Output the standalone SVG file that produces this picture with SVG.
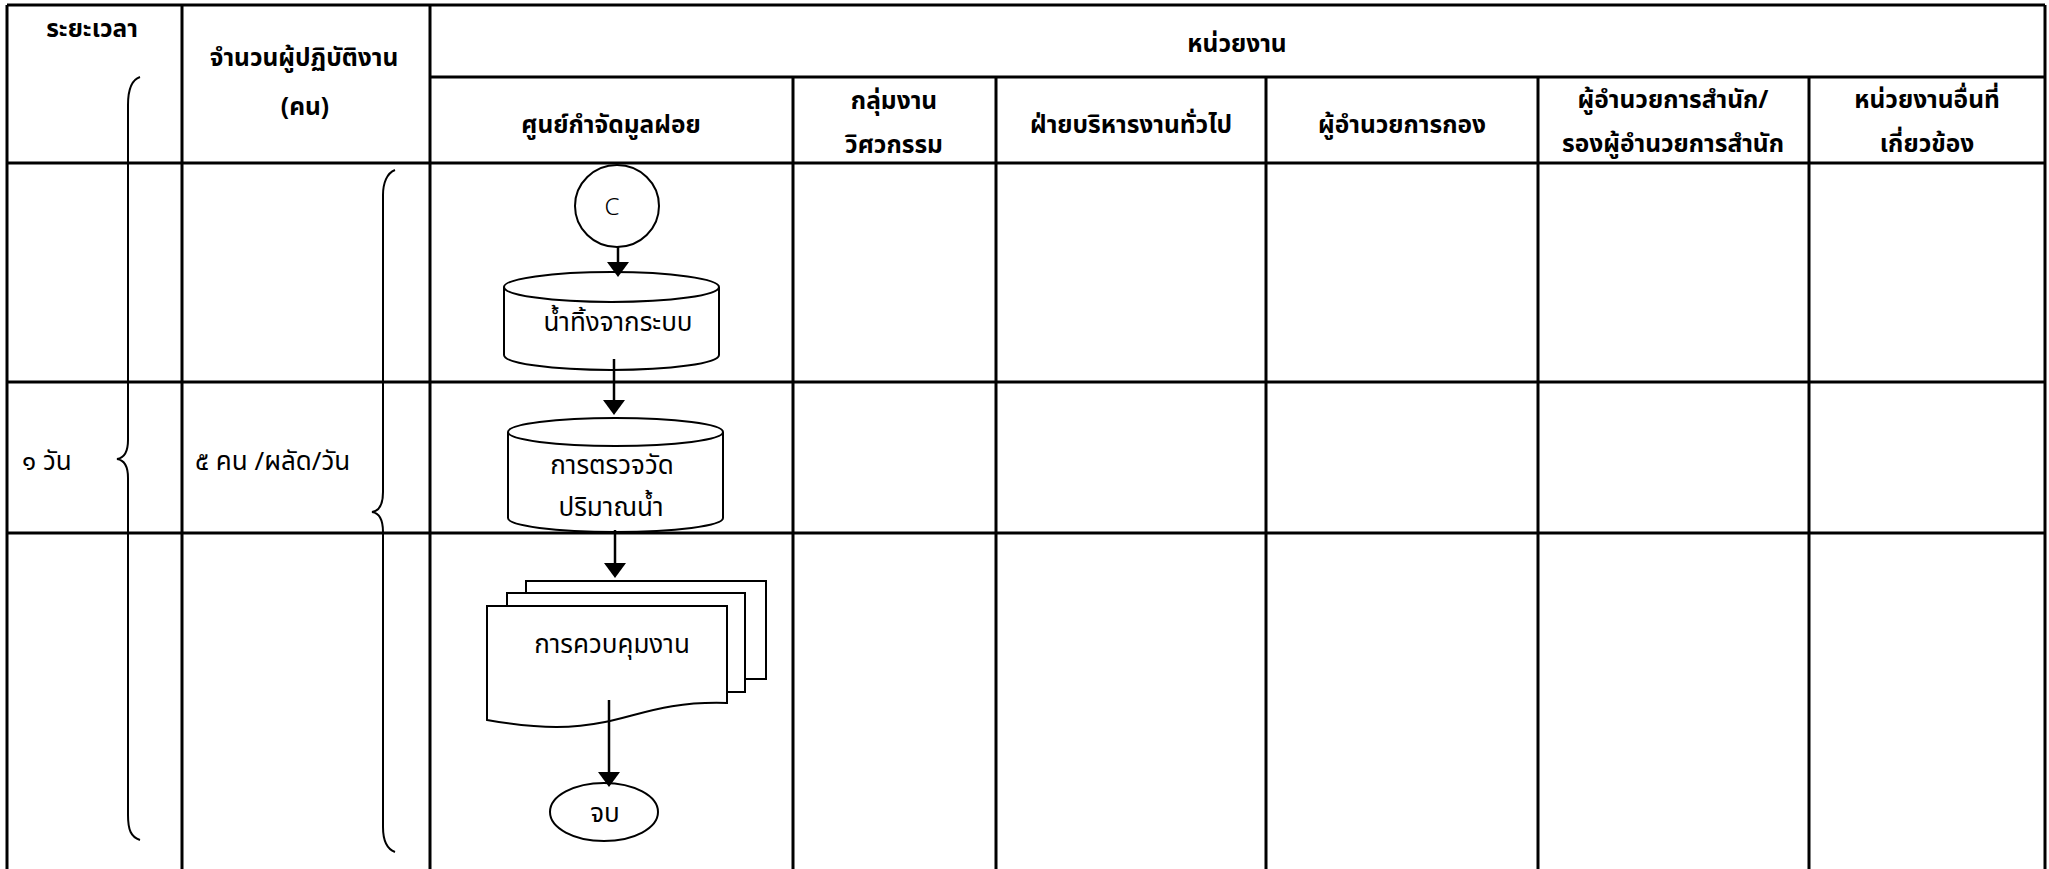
<svg xmlns="http://www.w3.org/2000/svg" width="2049" height="869" viewBox="0 0 2049 869">
  <style>
    .grid { stroke: #000; stroke-width: 3; fill: none; }
    .brace { stroke: #000; stroke-width: 2; fill: none; }
    .shape { stroke: #000; stroke-width: 2; fill: #fff; }
    .flow { stroke: #000; stroke-width: 2.5; fill: none; }
    .head { fill: #000; stroke: none; }
    text { font-family: "Noto Sans Thai", "Noto Sans Thai UI", "Tahoma", "Noto Sans", "DejaVu Sans", sans-serif; fill: #000; }
    .hd { font-size: 24.5px; font-weight: bold; text-anchor: middle; }
    .tx { font-size: 26px; }
    .lbl { font-size: 26px; text-anchor: middle; }
    .c { font-size: 24px; font-weight: 300; text-anchor: middle; }
  </style>

  <rect width="2049" height="869" fill="#fff"/>

  <!-- table grid -->
  <g id="table">
    <line class="grid" x1="7" y1="5" x2="2045" y2="5"/>
    <line class="grid" x1="7" y1="5" x2="7" y2="869"/>
    <line class="grid" x1="182" y1="5" x2="182" y2="869"/>
    <line class="grid" x1="430" y1="5" x2="430" y2="869"/>
    <line class="grid" x1="2045" y1="5" x2="2045" y2="869"/>
    <line class="grid" x1="430" y1="77" x2="2045" y2="77"/>
    <line class="grid" x1="793" y1="77" x2="793" y2="869"/>
    <line class="grid" x1="996" y1="77" x2="996" y2="869"/>
    <line class="grid" x1="1266" y1="77" x2="1266" y2="869"/>
    <line class="grid" x1="1538" y1="77" x2="1538" y2="869"/>
    <line class="grid" x1="1809" y1="77" x2="1809" y2="869"/>
    <line class="grid" x1="7" y1="163" x2="2045" y2="163"/>
    <line class="grid" x1="7" y1="382" x2="2045" y2="382"/>
    <line class="grid" x1="7" y1="533" x2="2045" y2="533"/>
  </g>

  <!-- column headers -->
  <g id="headers">
    <text class="hd" x="92" y="37">ระยะเวลา</text>
    <text class="hd" x="304" y="66">จำนวนผู้ปฏิบัติงาน</text>
    <text class="hd" x="305" y="115">(คน)</text>
    <text class="hd" x="1237" y="52">หน่วยงาน</text>
    <text class="hd" x="611" y="133">ศูนย์กำจัดมูลฝอย</text>
    <text class="hd" x="894" y="109">กลุ่มงาน</text>
    <text class="hd" x="894" y="153">วิศวกรรม</text>
    <text class="hd" x="1131" y="133">ฝ่ายบริหารงานทั่วไป</text>
    <text class="hd" x="1402" y="133">ผู้อำนวยการกอง</text>
    <text class="hd" x="1673" y="108">ผู้อำนวยการสำนัก/</text>
    <text class="hd" x="1673" y="152">รองผู้อำนวยการสำนัก</text>
    <text class="hd" x="1927" y="108">หน่วยงานอื่นที่</text>
    <text class="hd" x="1927" y="152">เกี่ยวข้อง</text>
  </g>

  <!-- duration and staff columns -->
  <g id="duration">
    <path class="brace" d="M140,77 C131,80 128,90 128,105 V440 C128,452 124,458 117,459 C124,460 128,466 128,478 V815 C128,830 131,837 140,840"/>
    <text class="tx" x="22" y="470">๑ วัน</text>
  </g>
  <g id="staff">
    <path class="brace" d="M395,170 C387,173 383,183 383,195 V492 C383,505 379,511 372,512 C379,513 383,519 383,532 V827 C383,840 387,849 395,852"/>
    <text class="tx" x="195" y="470">๕ คน /ผลัด/วัน</text>
  </g>

  <!-- flow nodes -->
  <g id="node-c">
    <ellipse class="shape" cx="617" cy="206" rx="42" ry="41"/>
    <text class="c" x="612" y="215">C</text>
  </g>

  <g id="node-effluent">
    <path class="shape" d="M504,287 A107.5,15 0 0,1 719,287 V355 A107.5,15 0 0,1 504,355 Z"/>
    <path class="shape" fill="none" d="M504,287 A107.5,15 0 0,0 719,287"/>
    <text class="lbl" x="618" y="331">น้ำทิ้งจากระบบ</text>
  </g>

  <g id="node-measure">
    <path class="shape" d="M508,432 A107.5,14 0 0,1 723,432 V518 A107.5,14 0 0,1 508,518 Z"/>
    <path class="shape" fill="none" d="M508,432 A107.5,14 0 0,0 723,432"/>
    <text class="lbl" x="612" y="474">การตรวจวัด</text>
    <text class="lbl" x="611" y="516">ปริมาณน้ำ</text>
  </g>

  <g id="node-control">
    <rect class="shape" x="526" y="581" width="240" height="98"/>
    <rect class="shape" x="507" y="593" width="238" height="99"/>
    <path class="shape" d="M487,606 H727 V703 C667,701 637,716 605,722 C575,728 545,730 487,720 Z"/>
    <text class="lbl" x="612" y="653">การควบคุมงาน</text>
  </g>

  <g id="node-end">
    <ellipse class="shape" cx="604" cy="812" rx="54" ry="29"/>
    <text class="lbl" x="605" y="822">จบ</text>
  </g>

  <!-- connectors -->
  <g id="connectors">
    <line class="flow" x1="618" y1="247" x2="618" y2="263"/>
    <polygon class="head" points="607,262 629,262 618,277"/>
    <line class="flow" x1="614" y1="359" x2="614" y2="401"/>
    <polygon class="head" points="603,400 625,400 614,415"/>
    <line class="flow" x1="615" y1="530" x2="615" y2="564"/>
    <polygon class="head" points="604,563 626,563 615,578"/>
    <line class="flow" x1="609" y1="700" x2="609" y2="773"/>
    <polygon class="head" points="598,772 620,772 609,787"/>
  </g>
</svg>
